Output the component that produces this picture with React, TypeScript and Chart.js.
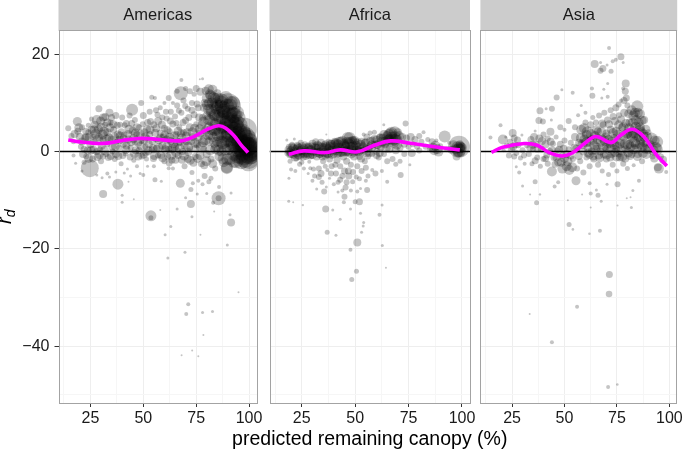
import React, { useEffect, useRef } from "react";
import { Chart, registerables } from "chart.js";

Chart.register(...registerables);

type P = [number, number, number];

const panelNames = ["Americas", "Africa", "Asia"];
const xMajor = [25, 50, 75, 100];
const xMinor = [12.5, 37.5, 62.5, 87.5];
const yMajor = [20, 0, -20, -40];
const yMinor = [10, -10, -30, -50];
const xLimits = [9.9, 103.75];
const yLimits = [-51.7, 24.8];
const xAxisLabel = "predicted remaining canopy (%)";

// [remaining canopy, r_d, bubble size]
const americasPoints: P[] = [
  [14.5,4.8,3],[16,3.2,3],[17,2,2.5],[18.8,6.2,4.5],[19,4.2,3.5],[20,3,4],[20.5,1,3],[21,5,3],[22,0.5,3.5],[22.5,2.8,4],[23,-1,3],[24,4,3],[24.7,-3.4,9],[25,1.5,4],[26,3,3],[26,-1.5,3.5],[27,5.5,4],[28,6.5,5],[29,8.8,3.5],[29,3,4],[29.5,0.5,3],[30,5,4.5],[30,-2,3],[31,7,4],[31,2.5,3.5],[32,5.5,3],[32.5,-0.5,3],[33,1.5,3],[33,4,4],[33,-4.5,2],[28,-4.8,1.5],[21,-4,1.5],[17,-0.8,2],[18,-2.4,1.5],[22,-2.2,2.5],[24,5.4,2.5],[27,2,3],[28,0,3.5],[25.5,6.7,2.5],[31,-1,3],
  [34,8,4],[34.5,6,3],[35,2.5,4],[35.5,0,3],[36,4.5,3.5],[36.5,-1.5,3],[37,7.4,3.5],[37.5,2,3],[38,-6.7,5.5],[38,3.5,4],[38.5,0.8,3],[39,5.5,3],[39.5,-2.5,2.5],[40,7,3],[40.5,1.5,3.5],[41,3.5,3],[41.5,-0.5,2.5],[42,5.8,3.5],[42.5,-3.6,1.5],[43,2.5,4],[43.5,7.4,3],[44,0.8,3],[44.7,8.6,6],[45,4.3,4],[45.5,-1.8,2.5],[46,6.5,3],[46,1.8,3],[47,-3,2],[47,3.5,3.5],[48,0.2,3.5],[48,5,3],[49,10,3],[49,2.2,3],[50,7.4,3.5],[50,-4.8,2],[50.5,4,4],[51,1,3],[51.5,-1.5,2.5],[52,6,3.5],[52,2.8,3],[30.5,-5.4,1.5],[31,-8.7,4],[34,-5.2,1.5],[37,-4.2,1.5],[41,-4.4,1.5],[43,-6.2,1],[44,-5,1.5],[40,-10.4,1.5],[40,-9,1.5],[45.5,-9.8,1],[48.5,-4.5,1.5],
  [53,8.2,3],[53,3.5,3.5],[53.6,-13.2,5.5],[53.6,-13.6,2.5],[54,11.2,2.5],[54,0.5,3],[55,5.5,3.5],[55.5,11,2],[55.5,-5.8,2.5],[56,2.5,3],[56,8.5,3],[57,-0.8,3],[57,6.3,4],[58,3.8,3.5],[58,9,2.5],[58.5,-6.1,1.5],[59,1.2,4],[59,7,3],[60,4.8,3.5],[60,-2,3],[60,10,2],[61,2.5,4],[61,6.8,3],[61.5,-1,3.5],[62,11,3],[62,0.5,3.5],[62.5,4.2,3],[63,8.2,3],[63,2.2,4],[63.5,-1.8,3.5],[64,10,2],[64,5.7,3.5],[64,-3.5,2],[65,1,4],[65,7.2,3],[65.5,3.5,3.5],[66,12.4,2.5],[66,9.5,3],[66.5,-0.8,3.5],[67,5,3],[67.5,-6.5,4.5],[67.7,12,7],[67.5,2,4],[68,14.7,2],[68,8,3],[68.5,0,3.5],[69,10.5,3],[69,4,3.5],[69.5,-3,3],[70,6.4,3.5],[70,13,2.5],[70.5,2,3.5],[71,8.8,3],[71,-1.5,4],[72,12.4,3],[72,0.5,3],[72,5,4],[72.5,-10.8,4],[72.5,-7.8,2.5],[73,10,3],[73,-4.3,2.5],[73.5,3,4],[74,7.6,3.5],[74,11.8,2.5],[74.5,-1,3.5],[75,13,3.5],[75,5.6,3],[75.5,1.5,4],[75.5,-8.7,1.5],[76,9,3.5],[76,-6,2],[76.7,14.9,1],[77,12.3,4],[77,3.7,4],[77.5,-2.5,3.5],[78,7,3.5],[78,15,1.5],[78.5,0.5,3.5],[79,10,4],[79,-5,3],[79.5,4.4,4.5],[79.5,12.5,4],[80,7.4,4.5],[80,-0.5,4],
  [81,12.8,5],[81,10,5],[81,5,5],[81,2,4.5],[82,8,5],[82,11.5,5.5],[82,-1.5,3.5],[82,-5.5,2.5],[82.7,12.7,5],[83,3,5],[83,6,5.5],[83,9.5,5],[84,0.5,5],[84,11,5],[84,7.5,6],[84,-3.5,3],[84.5,4.5,5],[85,9.5,6],[85,2,5],[85,12,4],[85.6,-9.6,7],[85.6,-9.6,3],[85.8,-7.3,2],[86,5.5,6],[86,8,6],[86,-1,5],[87,10.5,7],[87,3.5,6],[87,0,5],[87.5,7,7],[88,5,6],[88,-2.2,5],[88,9,7],[89,2,6],[89,11,7],[89.5,-3.4,6],[89.5,-3.2,6],[90,9.3,13],[90,6.5,8],[90,0.5,6],[90.5,4,8],[91,8,8],[91,-1.5,6],[91.5,-14.6,4],[91.5,-8.5,1.5],[91,-13,1.5],[92,6,8],[92,2,7],[92.5,10,7],[93,4.5,8],[93,-0.5,7],[93,7.5,8],[94,2.5,8],[94,6,8],[94,-2,7],[95,4,9],[95,0.5,8],[95,7,7],[96,2,9],[96,-1,8],[97,3.5,9],[97,0,9],[98,4.5,12],[98,1.5,10],[98,-1.5,9],[99,0,12],[99,2.5,10],[100,0.5,11],[100,-1.5,10],[100,2,9],[101,0.5,9],[101,-1,8],[102,1.5,7],[102,-0.5,7],
  [63,-15.4,1.5],[60.3,-17.1,1.5],[77,-17.1,1],[89.7,-19.2,1.5],[69.7,-20.7,1.5],[61.6,-21.9,1.5],[95,-28.9,1],[71.25,-31.4,2],[70.3,-33.4,2],[78,-33.1,1.5],[82.7,-32.9,1.5],[78.4,-37.7,1],[68.1,-41.9,1],[73.1,-40.9,1],[76,-42.1,1],
  [58,-12,1],[66,-11.8,1.5],[70,-9.5,1.5],[73,-13.4,1.5],[78,-6.7,2],[73.4,-6.5,2],[80,-8.6,1.5],[81,-6.2,2.5],[83,-10.5,2],[83.5,-12.3,1],[62,-3.4,2],[55,-3,2],[52,-3,1.5],
];

const americasExtra: P[] = [
  [17.5,3.6,4],[19.5,4.9,4.5],[21,2.1,4],[22.8,4.2,3.5],[23.7,0.2,4],[24.4,2.9,4.5],[25.6,4.5,4],[26.4,0.4,4],[27.4,3.6,5],[28.3,-1.1,4],[28.8,4.6,4.5],[29.8,6.3,4.5],[30.3,1.2,4],[31.4,4.1,5],[32,7.1,4],[32.6,2.6,4.5],[33.5,-1.2,3.5],[34.2,4.9,4.5],[35,7,3.5],[35.3,1,4],[36.4,3,4.5],[37,-0.5,4],[37.7,5.4,3.5],[38.8,2.4,4.5],[39.6,4.1,3.5],[40.3,-0.8,3.5],[41.2,5.4,3],[42,1.2,4],[42.8,3.6,4],[43.8,-1.1,3.5],[44.5,5.8,3.5],[45.4,2.7,4.5],[46.4,0.3,4],[46.9,5,4],[47.6,1.8,4],[48.6,3.6,4.5],[49.3,-0.9,3.5],[49.7,5.6,3],[50.4,2.3,4],[51.2,-0.2,4],[51.8,4.6,4],[52.6,1.5,4],[53.4,6.2,3.5],[54.3,2.2,4],[54.8,-1.4,3.5],[55.6,3.9,4],[56.3,0.6,4],[56.7,7.6,3],[57.5,2.4,4.5],[58.4,-0.7,4],[58.8,5.5,4],[59.6,2.9,4],[60.4,0.4,4.5],[60.7,8.2,3],[61.4,4.4,4],[62.2,-2.3,3.5],[62.8,6.3,3.5],[63.6,0.6,4.5],[64.5,3.2,4.5],[65.2,-1.7,4],[65.6,5.9,3],[66.2,1.9,4.5],[66.8,8.4,3],[67.8,3.7,4],[68.3,-1.7,4],[68.8,6,3.5],[69.5,1.3,4],[69.8,9.4,3],[70.7,4,4],[71.3,-0.1,4],[71.5,7,3.5],[72.6,2.2,4],[73,8.5,3.5],[73.7,-2.3,4],[74.2,4.8,4.5],[74.8,0.6,4],[75.4,9.8,3.5],[76,3,4.5],[76.4,7,4],[76.8,-0.8,4.5],[77.6,5.4,4.5],[78.2,1.9,5],[78.6,9,4],[78.8,-2.8,4],
  [80,11,5],[80.5,3.5,5.5],[80.8,8.7,5.5],[81.5,6.5,5.5],[81.6,0.3,5],[82.4,4.5,5.5],[82.6,10,5.5],[82.8,-2.5,4.5],[83.5,7.6,6],[83.7,1.9,5.5],[84.2,5.6,6],[84.6,8.9,6],[85.2,3.4,6],[85.4,11,5.5],[85.7,0.3,5.5],[86.3,6.8,6.5],[86.6,9.4,6.5],[86.8,2.1,6],[87.4,4.9,6.5],[87.7,-1.5,5.5],[88.2,8,7],[88.4,3,6.5],[88.7,0.5,6],[89.2,6,7],[89.5,9.5,7],[89.7,-1.6,6],[90.3,2.4,7],[90.6,7.4,8],[91.2,5,8],[91.4,10,7],[91.7,0.7,7],[92.3,3.4,8],[92.4,7.5,8],[92.8,-2,6.5],[93.5,5.5,8],[93.7,1.2,8],[94.3,8,7],[94.5,3.6,8],[94.8,-0.8,8],[95.5,5.5,8],[95.7,1.8,9],[96.3,-2,8],[96.5,4,9],[97.3,1.5,9],[97.7,-1,9],[98.3,3,10],[99.5,1,10],[99.7,-2,10],[100.5,1.2,9],[100.8,-0.3,9],
];

const americasDense: P[] = [
  [21.5,-0.5,4],[23,3,4],[24.2,-1.4,4.5],[25.3,0.3,4.5],[26.8,4.4,5],[28.5,2.5,5],[29.2,-0.6,4.5],[30.8,3.5,5],[31.6,0.2,4.5],[33,6,4],[33.8,2.8,4.5],[34.6,-0.9,4],[35.8,5.6,4],[36.8,1.1,4.5],[38.2,-0.9,4],[39,3.2,4.5],[40.6,2.7,4],[41.8,0.4,4.5],[43.2,4.6,4.5],[44.2,2,4.5],[45.8,-0.4,4.5],[46.2,3.8,4.5],[47.6,-1,4],[48.9,1.2,4.5],[50.2,-0.6,4],[50.8,3,4.5],[52.3,0.2,4.5],[53.2,4.5,4.5],[54.6,0.6,4.5],[55.2,-0.8,4.5],[56.2,4.8,4],[57.2,0.8,5],[58.2,2.8,4.5],[59.2,-1.3,4.5],[60.2,3.4,4.5],[61.2,0.9,5],[62.4,2.8,5],[63.2,-0.7,5],[64.2,1.7,5],[65.4,0,5],[66.4,4.2,4.5],[67.2,0.6,5],[68.2,2.7,5],[69.2,-0.8,5],[70.2,3.2,4.5],[71.2,1,5],[72.2,-1.8,4.5],[73.2,4,5],[74.4,1.8,5],[75.6,-1.4,4.5],[76.6,4.6,5],[77.4,1,5.5],[78.4,6.2,5],[79.2,2.4,5.5],[79.8,-2,5],[80.3,9.6,5.5],[80.8,6.6,5.5],[81.4,11.8,5],[81.8,3.6,6],[82.2,8.6,6],[83.2,11,6],[83.8,4.4,6],[84.4,10,6],[84.8,1.2,6],[85.6,7.4,6.5],[86.2,4.2,6.5],[86.8,10.2,6.5],[87.6,1.8,6.5],[87.8,8.4,7],[88.8,5.4,7],[90,3.4,7.5],[90.8,9.4,7.5],[91.6,6.4,8],[92.6,1.6,8],[94.2,5,8],[95.2,2.6,9],[96.6,0.6,9],[97.6,3,9],[99,1,10],[100.2,-0.6,10],
];

const africaPoints: P[] = [
  [18,2.4,1.5],[18.5,-0.3,3.5],[18.9,-10.2,1.5],[19,-5.5,1.5],[19,1,3],[19.5,-2,2.5],[20,0.3,4],[20,-3.7,2],[20.5,1.4,3],[21,-10.4,1],[21,-0.8,3.5],[21.5,2.6,1.5],[22,0.5,4],[22,-4,2],[22.5,-1.4,3],[23,1.3,3.5],[23.5,-0.3,3.5],[24,-2.6,2.5],[24,0.8,4],[24.5,1.8,3],[25,-0.6,3.5],[25.5,-11,1.2],[26,0.7,4],[26,-3.5,2],[26.5,1.5,3],[27,-1,3.5],[27.5,0.2,3.5],[28,1.3,3],[28,-4.5,1.5],[28.5,-2.1,2],[29,0.5,4],[29.5,-0.9,3],[30,1.6,4],[30,-6,2],[30.5,-3.6,2.5],[31,0,3.5],[31.5,2,3.5],[32,-1,4],[32,-7.7,1.5],[32.5,0.8,4],[33,-3.5,3],[33,-5.2,3],[33.5,-0.6,3.5],[34,1.8,4],[34,-4.5,3.5],[34.5,-6.3,2.5],[35,0.4,4],[35,-2,3],[35.5,1.5,3],[36,-0.8,4],[36.2,-11.8,3.5],[36.5,3.5,1],[36.5,-7.3,1.5],[37,0.8,4],[37,-3.8,2],[37.5,2,3],[38,-1.5,3.5],[38,-5.5,1.5],[38.5,0.3,4],[39,1.6,4],[39.5,-12,1.5],[39,-3,3],[40,-0.5,4],[40,-6.7,2],[40.5,2,4],[41,0.5,4],[41,-4.5,3],[41.5,-1.8,3.5],[42,1.5,5],[42,-6.3,2.5],[42.5,-0.5,3.5],[43,-13.9,1.5],[43,-3,3],[43.5,0.5,4],[44,-5,3],[44,2.2,5],[44.5,-1,4],[44.7,-10.4,2],[45,-9.3,3],[45,-4,3.5],[45.5,1,5],[46,-6.3,3],[46,-2,3.5],[46.5,2.8,6],[47,0,5],[47,-5,3.5],[47.8,-11.8,1.5],[47.5,1.8,6],[48,-2.7,3],[48,-8,2],[48.5,0.5,5],[49,2.4,4],[49,-4.2,3],[49.5,-1,4],[50,-10.3,2.5],[50,0.5,4],[50.5,2,3.5],[50.5,-5.2,2.5],[51,-3,3],[51,-8.2,2],[51.5,1,4],[52,-10.3,3.5],[52,-1,3.5],[52.5,-12.7,1.5],[52.5,-7.6,1.5],[53,-4,3],[53,2,4],[53.5,0.3,3.5],[54,-14.6,1.5],[54,3.5,2],[54.5,-2,3],[55,0.8,3.5],[55.6,-7.9,3],[55,-3.3,3],[55.5,3,3.5],[56,-1,3],[56,-5,2.5],[57,1.2,3.5],[57,3.8,2.5],[58,-0.5,3],[58,-3.8,2],[58,2.4,3.5],[59,1.5,3.5],[59,4,2.5],[59.5,-4.5,3],[60,0,3.5],[60,2.5,4],[61,-1.2,3],[61.4,-13,2],[61.5,3,3.5],[62,1,4],[62.6,-11,1.5],[62.5,-4,2],[63,2.8,4.5],[63.4,5.5,1.5],[63.5,-0.5,3],[64,1.5,4],[65,3.2,5],[65,-6.2,2],[65,-2,3],[66,0.5,4],[66,2.6,5],[67,3.9,6],[67.5,-1.5,3],[68,1.8,5],[68.5,3,6],[69,-2.6,2.5],[69,0.3,4],[70,2.5,4.5],[70,4,4],[71,0.8,3.5],[71.3,-4.8,3],[71,-2,2.5],[72,3,4],[73,1.5,3.5],[73.6,5.8,3],[73,-0.5,3],[74,2.8,3.5],[75,1,3],[75.6,-2.7,1.5],[76,3,4],[76.5,-0.3,4],[77,1.5,3],[78,2.5,3.5],[79,1,3],[80,3.2,3],[80,0.2,3],[81,2,3],[82,4,2],[83,1,3],[84,2.5,2.5],[85,0.5,3],[86,2,3.5],[87,0.3,5],[87.5,1.2,5],[88,2.3,2],[89,0,5],[90,1.2,2.5],[91.9,3.1,6],[93,0.5,3],[94,1.8,2],[95,0.4,4],[96,1.5,4],[97,0.5,5],[98.6,1,11],[98.6,0.3,7],[99,0.6,5],[99.5,-0.3,4],[100,0.8,5],[97.5,-1,4],[99,1.5,4],
  [51,-18.7,4],[36.9,-16.6,2.5],[41,-17.2,1.5],[47.8,-20.2,2],[53,-16.6,1.5],[53.75,-15.3,1.5],[62.7,-19.3,1.5],[64.4,-23.9,1],[50.6,-24.6,2.5],[48.4,-26.3,2.5],
];

const africaExtra: P[] = [
  [18.8,0.4,4],[19.6,-0.6,4],[20.4,1,4],[21.3,0,4.5],[21.8,-1.2,4],[22.7,0.6,4.5],[23.4,-0.7,4.5],[24.3,0.2,4.5],[25.2,1,4.5],[25.7,-1,4],[26.6,0.1,4.5],[27.3,-0.4,4],[28.2,0.8,4.5],[29,-0.8,4],[29.6,1,4.5],[30.4,0,4.5],[31.2,1,4.5],[32,-0.2,4.5],[33,1,5],[33.8,0,4.5],[34.7,-1,4],[35.4,0.7,5],[36.2,1.4,4.5],[36.8,-0.4,4.5],[37.7,0.5,5],[38.5,1.4,5],[39.2,-0.6,4.5],[40.2,0.8,5.5],[41,1.7,5],[41.7,-0.3,4.5],[42.6,0.8,5],[43.3,2,5],[44.2,0,5],[45,1.2,5.5],[46,0.2,5],[46.8,1.5,6],[47.4,2.8,6],[48.2,-0.4,5],[49,1,5.5],[49.8,2.3,4.5],[50.7,0.2,5],[51.3,1.8,4.5],[52.2,0.4,5],[52.8,-1.4,4],[53.7,1,4.5],[54.6,1.8,4],[55.3,-0.2,4.5],[56.3,0.6,4],[57,2.2,4],[58,0.8,4],[59,2.6,4],[60,-0.8,3.5],[60.7,1.4,4.5],[61.5,-0.3,4],[62.5,2,5],[63.5,3.4,5],[64.5,0.7,4.5],[65.5,2.4,5.5],[66.5,3.5,6.5],[67.5,2.4,6],[68.5,4,6],[69.5,1.4,5],[70.5,3.2,5],[36,-3,2.5],[38.7,-4.5,3],[40.7,-2.7,3],[43,-5.8,3],[45.5,-7.4,3],[46.8,-4,3.5],[48.8,-6.2,2.5],[44,-8,2],[42,-8.3,1.5],[55,-6,2],[52,-5.6,2.5],[31,-5,2.5],[29,-3.4,2],[25,-2.2,2.5],[35.5,-8.2,3],
];

const africaDense: P[] = [
  [19.2,0,4],[20.2,-0.4,4.5],[21,0.7,4.5],[22.2,-0.2,5],[23.2,0.9,4.5],[24,-0.8,4.5],[25,0.3,5],[26.2,-0.3,5],[27.2,0.8,4.5],[28,-0.5,4.5],[29.2,0.3,5],[30.2,-0.6,4.5],[31.4,0.6,5],[32.4,1.3,4.5],[33.4,-0.3,5],[34.3,0.8,5],[35.6,-0.2,5],[36.6,0.9,5],[37.4,-0.4,5],[38.2,1,5],[39.4,0.2,5],[40.4,1.5,5],[41.4,0.3,5],[42.4,1.9,5.5],[43.4,-0.1,5],[44.6,1.5,5.5],[45.6,0,5],[46.4,1.8,6],[47.6,0.8,6],[48.6,2,5.5],[49.4,0,5],[50.4,1.2,5],[51.6,0,4.5],[52.6,1.4,5],[54,0.2,4.5],[55,1.8,4.5],[56.6,-0.2,4.5],[57.6,1.4,4.5],[60.2,1.4,4.5],[62,2.7,5],[64,2,5],[65.8,3.4,6],[67.2,2.8,6.5],[68.8,2.4,6],[86.5,0.8,5],[88.5,0.5,5],[97.8,0.9,6],[98.9,0.9,6],[99.4,1,5],[98.2,-0.2,5],
];

const asiaPoints: P[] = [
  [14.7,2.9,2],[19.5,5.4,2],[20.6,2.5,5],[21,0.3,2],[22,3,1.5],[22.5,1.2,3],[23.5,-0.8,3],[24,2,3],[25.3,3.8,4],[25.5,1,4],[26,-1,3],[26,2.8,3.5],[27,-0.3,3],[27,-3.1,1.5],[28,1.3,3],[28.4,-4.3,2],[29,-1.3,2.5],[29.7,3.4,1.5],[30,0.3,3],[30,-7.1,1.5],[31,-2.5,2],[32,1.2,2.5],[33,-0.5,3],[33.6,-8.8,1],[34,2.5,3.5],[34.5,-2.5,2.5],[35,0.5,3],[35.5,3,4],[36,4.25,1.5],[36,-6.2,2.5],[36.7,-10.5,2.5],[36.5,1.5,3.5],[37,-1.2,3],[37.8,6.4,3.5],[38.3,8.4,3.5],[38.3,-8.8,1.2],[38,2.7,4],[38.5,-3,2.5],[39,0.5,3.5],[39.7,6.2,3],[40,-1.5,3],[40,3.5,3],[41,1.5,4],[41.25,8.8,1.5],[42,-2.5,3],[42,2.7,3],[43,0,3.5],[43.3,4.1,4],[43.75,6.5,1.5],[44,8.8,3],[44,-4.1,5],[44.5,1.6,3],[45,-1.2,3.5],[45.3,-7.2,2],[46,3,2.5],[46.25,11.1,3],[46.5,0.3,3],[47,-6.3,2],[47,-2.2,4],[48,1.5,3.5],[48,5,3],[48.75,12.7,1.5],[49,-0.8,3.5],[49,-3.5,5],[50,2.3,3],[50,4.5,2],[51,-0.5,4],[51,-3,5],[51.6,-10,1],[52,6.3,3],[52.2,-15,2.5],[52,0.5,3],[53,1.8,3],[53.9,12.1,2],[54,-1.5,3],[54,-16,1.3],[55,3,4],[55,5,3],[55.5,-6,4.5],[56,0.2,3],[56,-3.5,3],[56,-31.9,2],[56.5,7.5,2],[57,1.8,4],[57.5,-2,3],[58,4.5,5],[58,9.5,1.5],[58.4,-8.8,1],[59,0,4],[59,-4.3,3],[59.5,2.5,5],[60,6,3],[60,8,2],[60.5,-1.2,3],[61,4,6],[61,0.8,4],[62,-6.5,2],[62,-3,3],[62.5,-8.6,2],[62.5,-11.5,1],[62,2,5],[62.5,5.5,3.5],[63,0,4],[63.1,13,2],[63.3,11.5,3],[63.5,7,2.5],[64,-1.5,3.5],[64.4,18,4],[64.5,3.2,5],[65,6,3],[65.2,-7.9,1.5],[65.5,1,4],[66,-2.7,3],[66,-9,2.5],[66,4.2,4],[66.5,7.4,3],[67,0,4],[67.2,18.3,1.5],[67.2,16.6,3],[67.5,-10.2,1.5],[67.8,11,1.5],[68,2.7,4],[68,-4,2.5],[68.3,17.1,3.5],[68.5,5.5,3.5],[68.75,12.8,1.5],[69,8,3],[69.5,1,4],[70,-1.5,3.5],[70,3.7,4],[70.3,17.8,1.5],[70.3,-6.7,1.5],[70.6,14,1.5],[70.6,11.3,2],[70.5,6.5,3.5],[71.25,21.3,2],[71,-4.7,2.5],[71.5,1.5,4],[72,4.5,4],[72.2,16.5,2.5],[72,8.5,3],[72.5,-0.5,4],[73,18.6,2],[73,-2.7,3],[73.5,2.8,4],[74,6.3,4],[74.5,18.9,2],[74.5,0.5,4],[74.5,9,3.5],[75,-4,2.5],[75.3,-6.7,3],[75.3,-11.1,1],[75.5,3.5,5],[76,7.5,3],[76,-0.5,3.5],[76.9,19.5,3.5],[77,2,4.5],[77,10.5,2],[77.5,5,4],[78,18.3,1.5],[78,-2.5,3],[78,13,2],[78.5,8,4],[79,0.5,4],[79.2,14,4],[79,12.4,3.5],[79.5,11,3.5],[79.7,-9.6,1],[80,9.5,3],[80,3.7,5],[80,-3.5,2.5],[81,6,4],[81,1.5,4.5],[81.9,-11.5,1.5],[81.5,-9.4,1],[82,8.5,5],[82,-0.5,4],[82.6,-8,1.5],[83,4,6],[83,-2.8,2],[84,6.5,5],[84,1.5,5],[84.7,9.3,6],[85,-0.5,4],[85.5,-6,2],[85.5,3,5],[86,7.7,5],[86,5,5],[87,1,5],[87,-2,3],[88,6.5,4],[88,3,5],[89,-0.5,5],[89,1.5,5],[90,4,3],[91,1.5,4],[92,-1,3],[93,2.3,5],[94,0.5,6],[95,-3.5,5],[94.5,-3.2,4],[96,-1,3],[97,-1.7,4],[98.5,-4.2,2],
  [61.9,-16.9,1.3],[66.9,-16.3,2],[71.4,-25.3,3.5],[71.25,-29.3,3.3],[33.4,-33.4,1],[44,-39.2,2],[70.8,-48.4,2],[75.2,-47.9,1.3],
];

const asiaExtra: P[] = [
  [24.7,0.5,3.5],[27.6,2.4,3.5],[30.7,-0.8,3],[34.8,1.4,4],[36,-1.9,3.5],[39.3,2.2,4],[41.6,-0.7,3.5],[44,0.3,4],[45.5,-2.6,3.5],[47.5,0.4,4],[48.4,-2.2,4.5],[50,-1.4,4.5],[52.3,-3.8,5],[53,-0.8,4],[54.8,0.8,4],[56.8,-0.9,4],[57.8,2.8,5],[59.3,4.8,5],[60.3,1.9,5],[61.3,-0.3,4.5],[62.7,3.5,5.5],[63.6,-1,4],[64.2,1.2,5],[65.3,4.5,4.5],[66.3,-0.7,4.5],[67.2,2,5],[68,5.8,4],[68.8,-0.6,4],[69.6,3,4.5],[70.4,0.5,4.5],[71.2,5.6,4],[71.8,-1.2,4],[72.6,2,5],[73.2,7.2,3.5],[74,-0.2,4.5],[74.6,4.2,4.5],[75.2,1,5],[75.8,9.7,3],[76.4,-1.2,4],[77,6.6,4],[77.3,0.2,5],[78,3.2,5],[78.4,10.5,3.5],[79,-1.4,4],[79.3,5.8,4.5],[80,1.4,5],[80.6,7.8,4.5],[81.3,-0.8,4.5],[81.8,3.4,5.5],[82.5,6,5],[83,0.5,5],[83.6,8,5],[84.3,3.5,5.5],[84.8,-1,4.5],[85.3,6,5],[86,1.5,5],[86.6,4,5],[87.4,-0.3,5],[88,2,5],[88.8,4.6,4.5],[90,0.5,5],[91.5,2.7,6],[92.5,0.2,5],
];

const asiaDense: P[] = [
  [58.6,1.5,5],[60.6,3.4,5],[62,-0.6,4.5],[63.2,2.4,5],[64.8,0.4,5],[65.8,2.6,5],[66.8,-1.3,4.5],[67.6,4,5],[68.4,1,5],[69.2,2.2,5],[70.2,-0.6,5],[71,2.4,5],[72.3,0.6,5],[73.2,3.8,5],[73.8,1.4,5],[74.8,-1,5],[75.8,5.5,4.5],[76.4,1.6,5],[77.6,-1,5],[78.2,5,5],[78.8,1.6,5],[79.6,3.5,5],[80.4,-0.2,5],[80.8,4.8,5],[81.6,1,5],[82.4,3,5.5],[82.8,7.4,5],[83.4,2,5.5],[84,5,5.5],[84.6,0.6,5],[85,8,5],[85.8,4.4,5.5],[86.4,2.4,5],[86.8,6.4,5],[87.6,3.6,5],[88.4,0.6,5],[89.4,3,5],[93.5,0.8,6],[94.2,2,6],[92.8,-1.4,4],[37,0.6,4],[41,-1.4,3.5],[43.4,2,4],[46.2,-1.2,4],[49.6,0.6,4],[53.6,-3.2,5],[51.4,-2,5],[55.6,0.6,4],[33.5,0.8,3.5],[26.5,1.4,3.5],
];

const americasX = [14.5,20,27,33,40,48,56,63,69,74,80,85.5,89,93,96,99.5];
const americasY = [2.4,2.0,1.7,1.75,2.3,2.7,2.55,2.25,2.3,3.1,4.5,5.3,4.8,3.2,1.5,-0.2];
const africaX = [18.9,26,36,43,51,59,66.6,76,87,99];
const africaY = [-0.55,0.15,-0.2,0.35,-0.05,1.3,2.2,1.7,1.0,0.35];
const asiaX = [15.2,20.6,30.8,37,42.5,48.75,53.4,59.7,65,72.2,76.9,82.3,87.8,93.3,98.8];
const asiaY = [-0.15,0.9,1.65,1.3,-0.15,-0.9,-0.35,1.7,3.1,1.85,3.4,4.6,3.1,-0.35,-2.95];

const pointSets = [
  [...americasPoints, ...americasExtra, ...americasDense],
  [...africaPoints, ...africaExtra, ...africaDense],
  [...asiaPoints, ...asiaExtra, ...asiaDense],
];
const lineXs = [americasX, africaX, asiaX];
const lineYs = [americasY, africaY, asiaY];

const FONT = "'Liberation Sans', Arial, sans-serif";
const INK = "#1a1a1a";
const FRAME = "#a3a3a3";

const frames = [
  { left: 0, width: 270, padL: 0, padR: 11.5 },
  { left: 200, width: 340, padL: 69.5, padR: 70 },
  { left: 470, width: 215, padL: 10.4, padR: 4.5 },
];

const panelPlugin = {
  id: "panelFrame",
  beforeDraw(chart: any) {
    const { ctx, chartArea: a } = chart;
    ctx.save();
    ctx.fillStyle = "#cccccc";
    ctx.fillRect(a.left, 0, a.right - a.left, a.top);
    ctx.restore();
  },
  afterDraw(chart: any) {
    const { ctx, chartArea: a } = chart;
    ctx.save();
    ctx.strokeStyle = FRAME;
    ctx.lineWidth = 1;
    ctx.strokeRect(Math.round(a.left) + 0.5, Math.round(a.top) - 0.5, Math.round(a.right - a.left) - 1, Math.round(a.bottom - a.top) + 1);
    ctx.restore();
  },
};

const yTitlePlugin = {
  id: "yTitle",
  afterDraw(chart: any) {
    const { ctx } = chart;
    ctx.save();
    ctx.translate(11, 224);
    ctx.rotate(-Math.PI / 2);
    ctx.fillStyle = "#000";
    ctx.textBaseline = "alphabetic";
    ctx.font = `italic 20px ${FONT}`;
    ctx.fillText("r", 0, 0);
    const w = ctx.measureText("r").width;
    ctx.font = `italic 14px ${FONT}`;
    ctx.fillText("d", w, 4);
    ctx.restore();
  },
};

const xTitlePlugin = {
  id: "xTitle",
  afterDraw(chart: any) {
    const { ctx, chartArea: a } = chart;
    ctx.save();
    ctx.fillStyle = "#000";
    ctx.textAlign = "center";
    ctx.textBaseline = "middle";
    ctx.font = `19.5px ${FONT}`;
    ctx.fillText(xAxisLabel, (a.left + a.right) / 2, 440);
    ctx.restore();
  },
};

function tickList(major: number[], minor: number[]) {
  return [...major, ...minor].sort((a, b) => a - b).map((value) => ({ value }));
}

function buildConfig(i: number): any {
  const isFirst = i === 0;
  const isMiddle = i === 1;
  const f = frames[i];
  const lineData = lineXs[i].map((x, k) => ({ x, y: lineYs[i][k] }));
  const own: any[] = [panelPlugin];
  if (isFirst) own.push(yTitlePlugin);
  if (isMiddle) own.push(xTitlePlugin);
  return {
    type: "bubble",
    data: {
      datasets: [
        {
          type: "line",
          data: lineData,
          borderColor: "#ff00ff",
          borderWidth: 3.6,
          pointRadius: 0,
          tension: 0.4,
          fill: false,
          clip: 0,
          order: 1,
        },
        {
          type: "line",
          data: [{ x: xLimits[0], y: 0 }, { x: xLimits[1], y: 0 }],
          borderColor: "#000000",
          borderWidth: 1.5,
          pointRadius: 0,
          order: 2,
        },
        {
          type: "bubble",
          data: pointSets[i].map(([x, y, r]) => ({ x, y, r })),
          backgroundColor: "rgba(0,0,0,0.23)",
          borderWidth: 0,
          hoverRadius: 0,
          clip: 0,
          order: 3,
        },
      ],
    },
    options: {
      animation: false,
      responsive: false,
      events: [],
      layout: { padding: { left: f.padL, right: f.padR, top: 0, bottom: 0 } },
      plugins: {
        legend: { display: false },
        tooltip: { enabled: false },
        title: {
          display: true,
          text: panelNames[i],
          fullSize: false,
          color: INK,
          font: { family: FONT, size: 16.5, weight: "normal", lineHeight: 1.2 },
          padding: { top: 6, bottom: 5.2 },
        },
      },
      scales: {
        x: {
          type: "linear",
          min: xLimits[0],
          max: xLimits[1],
          afterBuildTicks: (s: any) => { s.ticks = tickList(xMajor, xMinor); },
          afterFit: (s: any) => { s.height = 47; },
          ticks: {
            autoSkip: false,
            maxRotation: 0,
            color: INK,
            font: { family: FONT, size: 16 },
            padding: 2,
            callback: (v: number) => (xMajor.includes(v) ? String(v) : ""),
          },
          grid: {
            color: (c: any) => (xMajor.includes(c.tick?.value) ? "#eeeeee" : "#f6f6f6"),
            tickColor: (c: any) => (xMajor.includes(c.tick?.value) ? "#333333" : "rgba(0,0,0,0)"),
            tickLength: 4,
            lineWidth: 1,
          },
          border: { display: false },
        },
        y: {
          type: "linear",
          min: yLimits[0],
          max: yLimits[1],
          afterBuildTicks: (s: any) => { s.ticks = tickList(yMajor, yMinor); },
          afterFit: (s: any) => { s.width = isFirst ? 58.5 : 0; },
          ticks: {
            display: isFirst,
            autoSkip: false,
            color: INK,
            font: { family: FONT, size: 16 },
            padding: 5,
            callback: (v: number) => (yMajor.includes(v) ? String(v).replace("-", "\u2212") : ""),
          },
          grid: {
            color: (c: any) => (yMajor.includes(c.tick?.value) ? "#eeeeee" : "#f6f6f6"),
            tickColor: (c: any) => (isFirst && yMajor.includes(c.tick?.value) ? "#333333" : "rgba(0,0,0,0)"),
            tickLength: isFirst ? 4 : 0,
            drawTicks: isFirst,
            lineWidth: 1,
          },
          border: { display: false },
        },
      },
    },
    plugins: own,
  };
}

export default function App() {
  const refs = [useRef<HTMLCanvasElement>(null), useRef<HTMLCanvasElement>(null), useRef<HTMLCanvasElement>(null)];
  useEffect(() => {
    const charts = refs.map((r, i) => new Chart(r.current as HTMLCanvasElement, buildConfig(i)));
    return () => charts.forEach((c) => c.destroy());
  }, []);
  return (
    <div style={{ position: "absolute", left: 0, top: 0, width: 685, height: 450, background: "#fff", overflow: "hidden" }}>
      {frames.map((f, i) => (
        <canvas
          key={panelNames[i]}
          ref={refs[i]}
          width={f.width}
          height={450}
          style={{ position: "absolute", left: f.left, top: 0, width: f.width, height: 450 }}
        />
      ))}
    </div>
  );
}
